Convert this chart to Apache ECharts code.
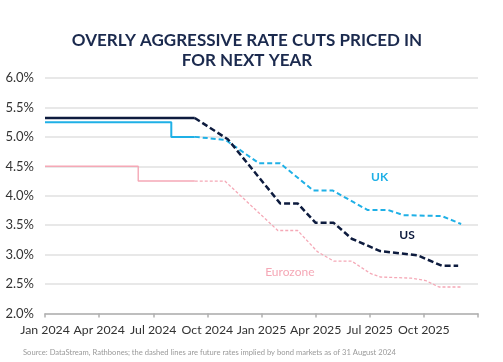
<!DOCTYPE html>
<html>
<head>
<meta charset="utf-8">
<script src="https://cdn.jsdelivr.net/npm/echarts@6/dist/echarts.min.js"></script>
<style>html,body{margin:0;padding:0;background:#fff;}#c{width:503px;height:362px;}</style>
</head>
<body>
<div id="c"></div>
<script>
// ---- data ----
var startYear = 2024;
var xTickLabels = ['Jan 2024','Apr 2024','Jul 2024','Oct 2024','Jan 2025','Apr 2025','Jul 2025','Oct 2025'];
var yTicks = [2.0, 2.5, 3.0, 3.5, 4.0, 4.5, 5.0, 5.5, 6.0];

var usActual = [['2024-01-01',5.32],['2024-09-10',5.32]];
var usImplied = [['2024-09-10',5.32],['2024-11-05',4.96],['2025-02-02',3.87],['2025-03-01',3.87],['2025-04-01',3.54],['2025-05-01',3.54],['2025-06-01',3.27],['2025-07-19',3.06],['2025-09-20',2.99],['2025-11-01',2.81],['2025-11-28',2.81]];

var ukActual = [['2024-01-01',5.25],['2024-08-01',5.25],['2024-08-01',5.0],['2024-09-10',5.0]];
var ukImplied = [['2024-09-10',5.0],['2024-11-01',4.95],['2024-12-28',4.55],['2025-02-02',4.55],['2025-03-28',4.09],['2025-04-29',4.09],['2025-06-27',3.76],['2025-08-01',3.76],['2025-08-28',3.67],['2025-11-01',3.655],['2025-12-03',3.52]];

var ezActual = [['2024-01-01',4.5],['2024-06-06',4.5],['2024-06-06',4.25],['2024-09-10',4.25]];
var ezImplied = [['2024-09-10',4.25],['2024-10-31',4.25],['2025-01-29',3.41],['2025-03-01',3.41],['2025-04-04',3.05],['2025-05-01',2.89],['2025-06-01',2.89],['2025-07-02',2.68],['2025-07-19',2.62],['2025-09-10',2.60],['2025-10-04',2.56],['2025-10-27',2.45],['2025-12-03',2.45]];

var labelUK = ['2025-07-18', 4.32];
var labelUS = ['2025-09-03', 3.33];
var labelEZ = ['2025-02-17', 2.71];

var cUS = '#0d1b3e', cUK = '#1fb0e6', cEZ = '#f5a8b6';
var FONT = 'Lato';

// convert 'YYYY-MM-DD' to months since Jan 2024 (fractional)
function toMonths(s){
  var p = s.split('-'), y = +p[0], m = +p[1], d = +p[2];
  var dim = new Date(Date.UTC(y, m, 0)).getUTCDate();
  return (y - startYear) * 12 + (m - 1) + (d - 1) / dim;
}
function conv(arr){ return arr.map(function(r){ return [toMonths(r[0]), r[1]]; }); }

function tagPoint(coord, text, color, weight){
  return {
    symbol: 'rect', symbolSize: 1, silent: true,
    itemStyle: {color: 'rgba(0,0,0,0)'},
    data: [{coord: [toMonths(coord[0]), coord[1]]}],
    label: {show: true, position: 'inside', formatter: text, color: color, fontFamily: FONT, fontSize: 12, fontWeight: weight}
  };
}

var chart = echarts.init(document.getElementById('c'), null, {renderer: 'canvas'});
chart.setOption({
  animation: false,
  backgroundColor: '#fff',
  title: [{
    text: 'OVERLY AGGRESSIVE RATE CUTS PRICED IN\nFOR NEXT YEAR',
    left: 242, top: 26, textAlign: 'center',
    textStyle: {fontFamily: FONT, fontSize: 17, fontWeight: 'bold', color: '#1b2a4e', lineHeight: 20}
  }, {
    text: 'Source: DataStream, Rathbones; the dashed lines are future rates implied by bond markets as of 31 August 2024',
    left: 18, top: 344,
    textStyle: {fontFamily: FONT, fontSize: 7.6, fontWeight: 'normal', color: '#9a9a9a'}
  }],
  grid: {left: 45, right: 25, top: 78, bottom: 48.5, containLabel: false},
  xAxis: {
    type: 'value', min: 0, max: 24, interval: 3,
    axisLine: {show: true, lineStyle: {color: '#b0b0b0', width: 1.5}},
    axisTick: {show: true, length: 4, lineStyle: {color: '#b0b0b0', width: 1.5}},
    axisLabel: {
      margin: 11, color: '#333', fontFamily: FONT, fontSize: 12.3,
      formatter: function (v) { var i = Math.round(v / 3); return i < xTickLabels.length ? xTickLabels[i] : ''; }
    },
    splitLine: {show: false}
  },
  yAxis: {
    type: 'value', min: 2, max: 6, interval: 0.5,
    axisLine: {show: false}, axisTick: {show: false},
    axisLabel: {margin: 11, color: '#333', fontFamily: FONT, fontSize: 13, formatter: function (v) { return v.toFixed(1) + '%'; }},
    splitLine: {lineStyle: {color: '#e0e0e0', width: 1.5}}
  },
  series: [
    {type: 'line', data: conv(ezActual), symbol: 'none', lineStyle: {color: cEZ, width: 1.4}, z: 2},
    {type: 'line', data: conv(ezImplied), symbol: 'none', lineStyle: {color: cEZ, width: 1.3, type: [3, 2]}, z: 2, markPoint: tagPoint(labelEZ, 'Eurozone', cEZ, 'normal')},
    {type: 'line', data: conv(ukActual), symbol: 'none', lineStyle: {color: cUK, width: 2}, z: 3},
    {type: 'line', data: conv(ukImplied), symbol: 'none', lineStyle: {color: cUK, width: 2, type: [5, 3]}, z: 3, markPoint: tagPoint(labelUK, 'UK', cUK, 'bold')},
    {type: 'line', data: conv(usActual), symbol: 'none', lineStyle: {color: cUS, width: 2.5}, z: 4},
    {type: 'line', data: conv(usImplied), symbol: 'none', lineStyle: {color: cUS, width: 2.5, type: [6, 3]}, z: 4, markPoint: tagPoint(labelUS, 'US', cUS, 'bold')}
  ]
});
</script>
</body>
</html>
